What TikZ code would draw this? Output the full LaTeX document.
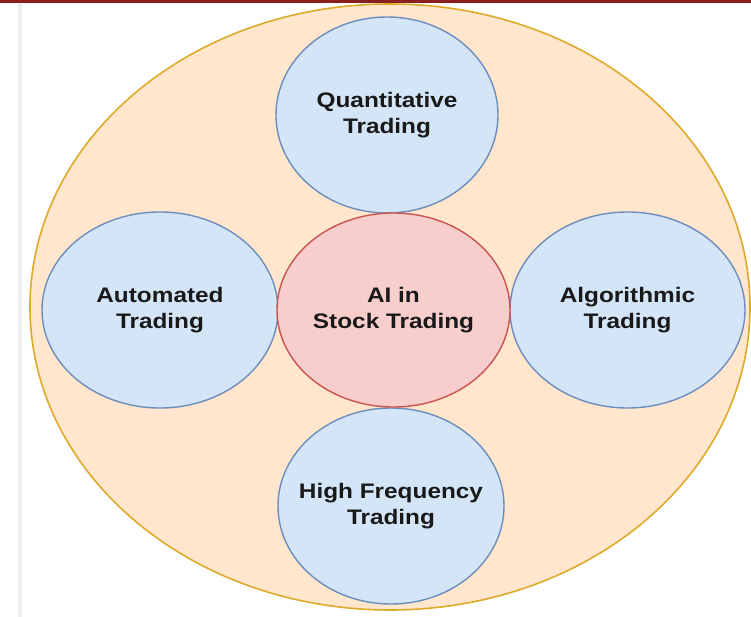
\documentclass[tikz,border=0pt]{standalone}
\usepackage{fontspec}
\setmainfont{Liberation Sans}
\newfontfamily\lblfont[FakeStretch=1.16]{Liberation Sans}
\usetikzlibrary{shapes.geometric}
\definecolor{topbar}{HTML}{8B1E1E}
\definecolor{sidegray}{HTML}{EEEEEE}
\definecolor{outerfill}{HTML}{FFE6CC}
\definecolor{outerdraw}{HTML}{DDAA2A}
\definecolor{bluefill}{HTML}{D4E5F8}
\definecolor{bluedraw}{HTML}{6C8EBF}
\definecolor{redfill}{HTML}{F8CECC}
\definecolor{reddraw}{HTML}{C85450}
\tikzset{
  bubble/.style={ellipse, draw=bluedraw, fill=bluefill, line width=1.4pt, inner xsep=-40pt, inner ysep=0pt,
    align=center, font=\lblfont\bfseries\fontsize{21}{26}\selectfont, text=black!90},
  core/.style={bubble, draw=reddraw, fill=redfill}
}
\begin{document}
\begin{tikzpicture}[x=1pt,y=-1pt]
\useasboundingbox (0,0) rectangle (751,617);
\fill[white] (0,0) rectangle (751,617);
\fill[sidegray] (18,2) rectangle (22,617);
\fill[topbar] (0,0) rectangle (751,3);
\node[ellipse, draw=outerdraw, fill=outerfill, line width=1.6pt, inner sep=0pt,
  minimum width=720pt, minimum height=606pt] (outer) at (390,307) {};
\node[bubble, minimum width=222pt, minimum height=196pt] (quant) at (387,115) {Quantitative\\Trading};
\node[bubble, minimum width=236pt, minimum height=196pt] (auto) at (160,310) {Automated\\Trading};
\node[bubble, minimum width=235pt, minimum height=196pt] (algo) at (627.5,310) {Algorithmic\\Trading};
\node[bubble, minimum width=226pt, minimum height=196pt] (hf) at (391,506) {High Frequency\\Trading};
\node[core, minimum width=233pt, minimum height=194pt] (ai) at (393.5,310) {AI in\\Stock Trading};
\end{tikzpicture}
\end{document}
